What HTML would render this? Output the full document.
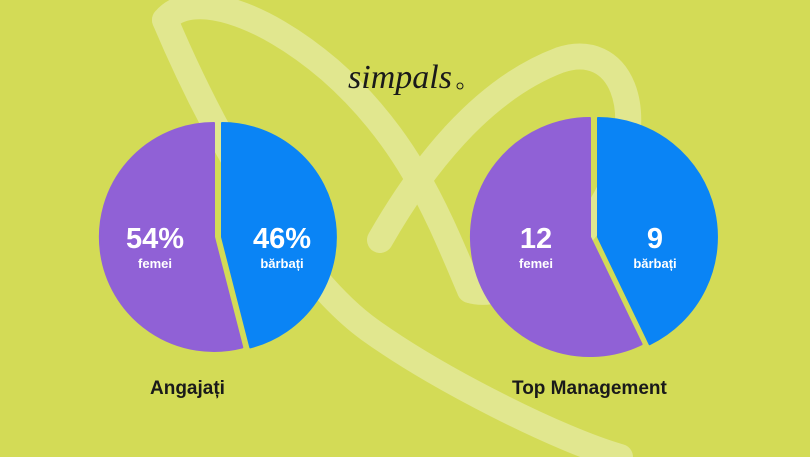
<!DOCTYPE html>
<html><head><style>
body{margin:0;width:810px;height:457px;overflow:hidden;background:#d3db56;}
svg{display:block}
text{font-family:"Liberation Sans",sans-serif;}
</style></head><body>
<svg width="810" height="457" viewBox="0 0 810 457">
<rect width="810" height="457" fill="#d3db56"/>
<g fill="none" stroke="#e1e78f" stroke-width="26" stroke-linecap="round">
<path d="M165 20 C220 150 300 280 370 330 C440 380 560 440 620 457"/>
<path d="M165 20 C190 -10 260 10 330 70 C410 140 440 220 470 290"/>
<path d="M380 240 C420 170 480 90 560 60 C620 40 650 110 610 190 C570 270 500 300 470 290"/>
</g>
<text x="400" y="88" text-anchor="middle" font-size="34" font-style="italic" fill="#1a1a1a" style="font-family:'Liberation Serif',serif">simpals</text>
<circle cx="460" cy="86" r="3" fill="none" stroke="#1a1a1a" stroke-width="1"/>
<g stroke-linejoin="round" stroke-width="2">
<path d="M218 237 L218 123 A114 114 0 0 1 246.3 347.4 Z" fill="#0a84f5" stroke="#0a84f5" transform="translate(4,0)"/>
<path d="M218 237 L246.3 347.4 A114 114 0 1 1 218 123 Z" fill="#9061d6" stroke="#9061d6" transform="translate(-4,0)"/>
<path d="M594 237 L594 118 A119 119 0 0 1 645.6 344.2 Z" fill="#0a84f5" stroke="#0a84f5" transform="translate(4,0)"/>
<path d="M594 237 L645.6 344.2 A119 119 0 1 1 594 118 Z" fill="#9061d6" stroke="#9061d6" transform="translate(-4,0)"/>
</g>
<g fill="#fff" font-weight="bold" text-anchor="middle">
<text x="155" y="248" font-size="29">54%</text>
<text x="155" y="268" font-size="13">femei</text>
<text x="282" y="248" font-size="29">46%</text>
<text x="282" y="268" font-size="13">bărbați</text>
<text x="536" y="248" font-size="29">12</text>
<text x="536" y="268" font-size="13">femei</text>
<text x="655" y="248" font-size="29">9</text>
<text x="655" y="268" font-size="13">bărbați</text>
</g>
<g fill="#1a1a1a" font-weight="bold" font-size="19">
<text x="150" y="394">Angajați</text>
<text x="512" y="394">Top Management</text>
</g>
</svg>
</body></html>
